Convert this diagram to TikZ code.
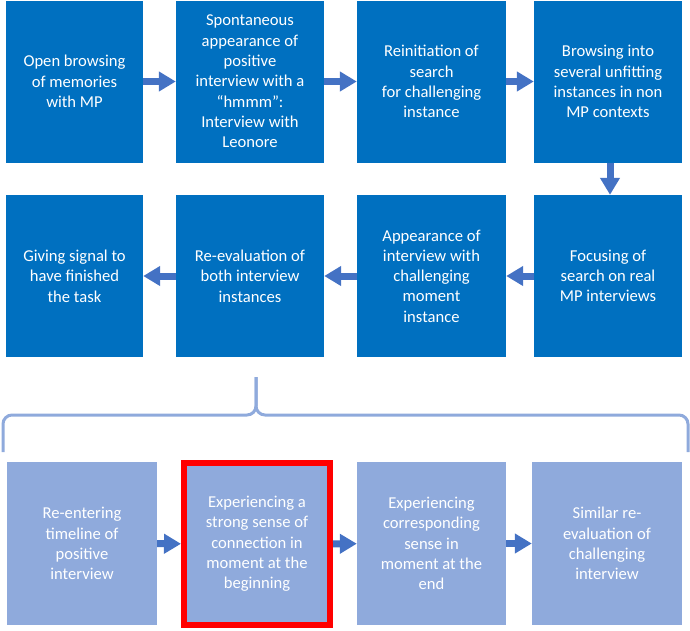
\documentclass[tikz,border=0pt]{standalone}
\usepackage{fontspec}
\setmainfont{Carlito}
\usetikzlibrary{arrows.meta}
\definecolor{darkbox}{HTML}{0070C0}
\definecolor{lightbox}{HTML}{8FAADC}
\definecolor{arrowblue}{HTML}{4472C4}
\tikzset{
  stepbox/.style={fill=darkbox, text=white, align=center, inner sep=0pt,
    minimum width=148pt, minimum height=162pt,
    font=\fontsize{16.6}{20.3}\selectfont},
  subbox/.style={stepbox, fill=lightbox},
  flow/.style={draw=arrowblue, line width=7pt, -{Triangle[length=17pt,width=19pt]}},
}
\begin{document}
\begin{tikzpicture}[x=1pt,y=-1pt]
    \useasboundingbox (0,0) rectangle (690,630);

    % 第一行
    \node[stepbox, minimum width=137pt] (open) at (74.5,81.5) {Open browsing\\of memories\\with MP};
    \node[stepbox] (spont) at (250,81.5) {Spontaneous\\appearance of\\positive\\interview with a\\“hmmm”:\\Interview with\\Leonore};
    \node[stepbox, minimum width=149pt] (reinit) at (431.5,81.5) {Reinitiation of\\search\\for challenging\\instance};
    \node[stepbox] (unfit) at (608,81.5) {Browsing into\\several unfitting\\instances in non\\MP contexts};

    % 第二行
    \node[stepbox] (focus) at (608,276) {Focusing of\\search on real\\MP interviews};
    \node[stepbox, minimum width=149pt] (appear) at (431.5,276) {Appearance of\\interview with\\challenging\\moment\\instance};
    \node[stepbox] (reeval) at (250,276) {Re-evaluation of\\both interview\\instances};
    \node[stepbox, minimum width=137pt] (signal) at (74.5,276) {Giving signal to\\have finished\\the task};

    \draw[flow] (open) -- (spont);
    \draw[flow] (spont) -- (reinit);
    \draw[flow] (reinit) -- (unfit);
    \draw[flow] (unfit.south -| 610,0) -- (focus.north -| 610,0);
    \draw[flow] (focus) -- (appear);
    \draw[flow] (appear) -- (reeval);
    \draw[flow] (reeval) -- (signal);

    % 大括号
    \draw[lightbox, line width=3pt, rounded corners=9pt] (3,452) -- (3,415) -- (256,415) -- (256,377);
    \draw[lightbox, line width=3pt, rounded corners=9pt] (256,377) -- (256,415) -- (688,415) -- (688,452);

    % 第三行
    \node[subbox, minimum width=150pt, minimum height=163pt] (reenter) at (82,543.5) {Re-entering\\timeline of\\positive\\interview};
    \node[subbox, minimum width=146pt, draw=red, line width=6pt] (strong) at (257,544) {Experiencing a\\strong sense of\\connection in\\moment at the\\beginning};
    \node[subbox, minimum width=149pt, minimum height=163pt] (corresp) at (431.5,543.5) {Experiencing\\corresponding\\sense in\\moment at the\\end};
    \node[subbox, minimum width=150pt, minimum height=163pt] (similar) at (607,543.5) {Similar re-\\evaluation of\\challenging\\interview};

    \draw[flow] (reenter) -- (strong);
    \draw[flow] (strong) -- (corresp);
    \draw[flow] (corresp) -- (similar);
\end{tikzpicture}
\end{document}
